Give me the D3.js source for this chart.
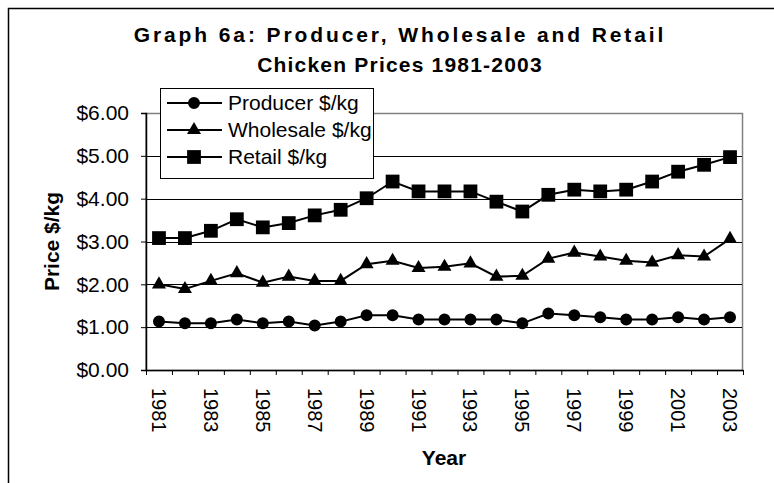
<!DOCTYPE html>
<html>
<head>
<meta charset="utf-8">
<script src="https://cdn.jsdelivr.net/npm/d3@7"></script>
<style>
  body { margin: 0; background: #fff; }
  svg { display: block; font-family: "Liberation Sans", Arial, sans-serif; }
</style>
</head>
<body>
<div id="chart"></div>
<script>
// DATA
const years = d3.range(1981, 2004);
const producer = [1.13, 1.09, 1.09, 1.18, 1.09, 1.13, 1.04, 1.13, 1.28, 1.28, 1.18, 1.18,
  1.18, 1.18, 1.09, 1.32, 1.28, 1.23, 1.18, 1.18, 1.23, 1.18, 1.23];
const wholesale = [2.00, 1.89, 2.08, 2.26, 2.04, 2.18, 2.08, 2.08, 2.47, 2.55, 2.38, 2.41,
  2.49, 2.18, 2.20, 2.60, 2.74, 2.65, 2.55, 2.51, 2.68, 2.65, 3.06];
const retail = [3.08, 3.08, 3.25, 3.52, 3.33, 3.43, 3.61, 3.74, 4.01, 4.40, 4.17, 4.17,
  4.17, 3.93, 3.70, 4.09, 4.21, 4.17, 4.21, 4.40, 4.63, 4.79, 4.97];
const seriesNames = ['Producer $/kg', 'Wholesale $/kg', 'Retail $/kg'];
const yTicks = [0, 1, 2, 3, 4, 5, 6];
const titleLines = ['Graph 6a: Producer, Wholesale and Retail', 'Chicken Prices 1981-2003'];

const W = 774, H = 483;
const plot = { left: 146, right: 743, top: 113, bottom: 370 };

const svg = d3.select('#chart').append('svg').attr('width', W).attr('height', H);

// outer chart border
svg.append('rect')
  .attr('x', 8.5).attr('y', 8.5)
  .attr('width', W + 20).attr('height', H + 20)
  .attr('fill', '#fff').attr('stroke', '#000').attr('stroke-width', 1.5);

// SCALES
const x = d3.scaleBand().domain(years).range([plot.left, plot.right]).padding(0);
const xEdge = d3.scaleLinear().domain([0, years.length]).range([plot.left, plot.right]);
const y = d3.scaleLinear().domain([0, 6]).range([plot.bottom, plot.top]);

// title
svg.append('g').selectAll('text')
  .data(titleLines)
  .enter()
  .append('text')
  .attr('x', 400)
  .attr('y', (d, i) => 42 + i * 30)
  .attr('text-anchor', 'middle')
  .attr('font-size', 21)
  .attr('font-weight', 'bold')
  .attr('letter-spacing', (d, i) => i === 0 ? 2.9 : 1.2)
  .text(d => d);

// plot area border (grey top/right)
svg.append('rect')
  .attr('x', plot.left).attr('y', plot.top + 0.5)
  .attr('width', plot.right - plot.left - 0.5).attr('height', plot.bottom - plot.top)
  .attr('fill', 'none').attr('stroke', '#808080').attr('stroke-width', 1.5);

// gridlines
svg.append('g').selectAll('line')
  .data(yTicks.filter(d => d > 0 && d < 6))
  .enter()
  .append('line')
  .attr('x1', plot.left).attr('x2', plot.right - 1)
  .attr('y1', d => Math.round(y(d)) + 0.5).attr('y2', d => Math.round(y(d)) + 0.5)
  .attr('stroke', '#000').attr('stroke-width', 1);

// y axis
const yAxis = svg.append('g')
  .attr('transform', `translate(${plot.left}, 0)`)
  .call(d3.axisLeft(y).tickValues(yTicks).tickFormat(d3.format('$.2f')).tickSize(5).tickPadding(12));
yAxis.select('.domain').attr('stroke', '#000').attr('stroke-width', 1.5);
yAxis.selectAll('.tick line').attr('stroke', '#000');
yAxis.selectAll('.tick text')
  .attr('font-size', 21).attr('font-family', '"Liberation Sans", Arial, sans-serif').attr('fill', '#000');

// x axis (ticks on category edges)
const xAxis = svg.append('g')
  .attr('transform', `translate(0, ${plot.bottom})`)
  .call(d3.axisBottom(xEdge).tickValues(d3.range(years.length + 1)).tickFormat('').tickSize(5).tickSizeOuter(0));
xAxis.select('.domain').attr('stroke', '#000').attr('stroke-width', 1.5);
xAxis.selectAll('.tick line').attr('stroke', '#000');

svg.append('g').selectAll('text')
  .data(years.filter((d, i) => i % 2 === 0))
  .enter()
  .append('text')
  .attr('transform', d => `translate(${x(d) + x.bandwidth() / 2}, 388) rotate(90)`)
  .attr('dy', '0.35em')
  .attr('font-size', 20)
  .text(d => d);

// axis titles
svg.append('text')
  .attr('x', 444).attr('y', 465)
  .attr('text-anchor', 'middle')
  .attr('font-size', 21).attr('font-weight', 'bold')
  .text('Year');

svg.append('text')
  .attr('transform', `translate(59, ${(plot.top + plot.bottom) / 2}) rotate(-90)`)
  .attr('text-anchor', 'middle')
  .attr('font-size', 21).attr('font-weight', 'bold')
  .text('Price $/kg');

// SERIES
const series = [producer, wholesale, retail];
const cx = (d, i) => x(years[i]) + x.bandwidth() / 2;
const line = d3.line().x(cx).y(d => y(d));

const symbols = [
  d3.symbol().type(d3.symbolCircle).size(113),
  d3.symbol().type(d3.symbolTriangle).size(85),
  d3.symbol().type(d3.symbolSquare).size(190)
];

series.forEach((values, s) => {
  svg.append('path')
    .datum(values)
    .attr('d', line)
    .attr('fill', 'none')
    .attr('stroke', '#000')
    .attr('stroke-width', 2);

  svg.append('g').selectAll('path')
    .data(values)
    .enter()
    .append('path')
    .attr('d', symbols[s]())
    .attr('transform', (d, i) => `translate(${cx(d, i)}, ${y(d)})`)
    .attr('fill', '#000');
});

// LEGEND
const legend = svg.append('g');
legend.append('rect')
  .attr('x', 160.5).attr('y', 88.5)
  .attr('width', 213).attr('height', 90)
  .attr('fill', '#fff').attr('stroke', '#000').attr('stroke-width', 1);

const rows = legend.selectAll('.row')
  .data(seriesNames)
  .enter()
  .append('g')
  .attr('transform', (d, i) => `translate(0, ${103 + i * 27})`);

rows.append('line')
  .attr('x1', 167).attr('x2', 222)
  .attr('stroke', '#000').attr('stroke-width', 2);

rows.append('path')
  .attr('d', (d, i) => symbols[i]())
  .attr('transform', 'translate(194, 0)')
  .attr('fill', '#000');

rows.append('text')
  .attr('x', 228)
  .attr('dy', '0.35em')
  .attr('font-size', 21)
  .text(d => d);
</script>
</body>
</html>
